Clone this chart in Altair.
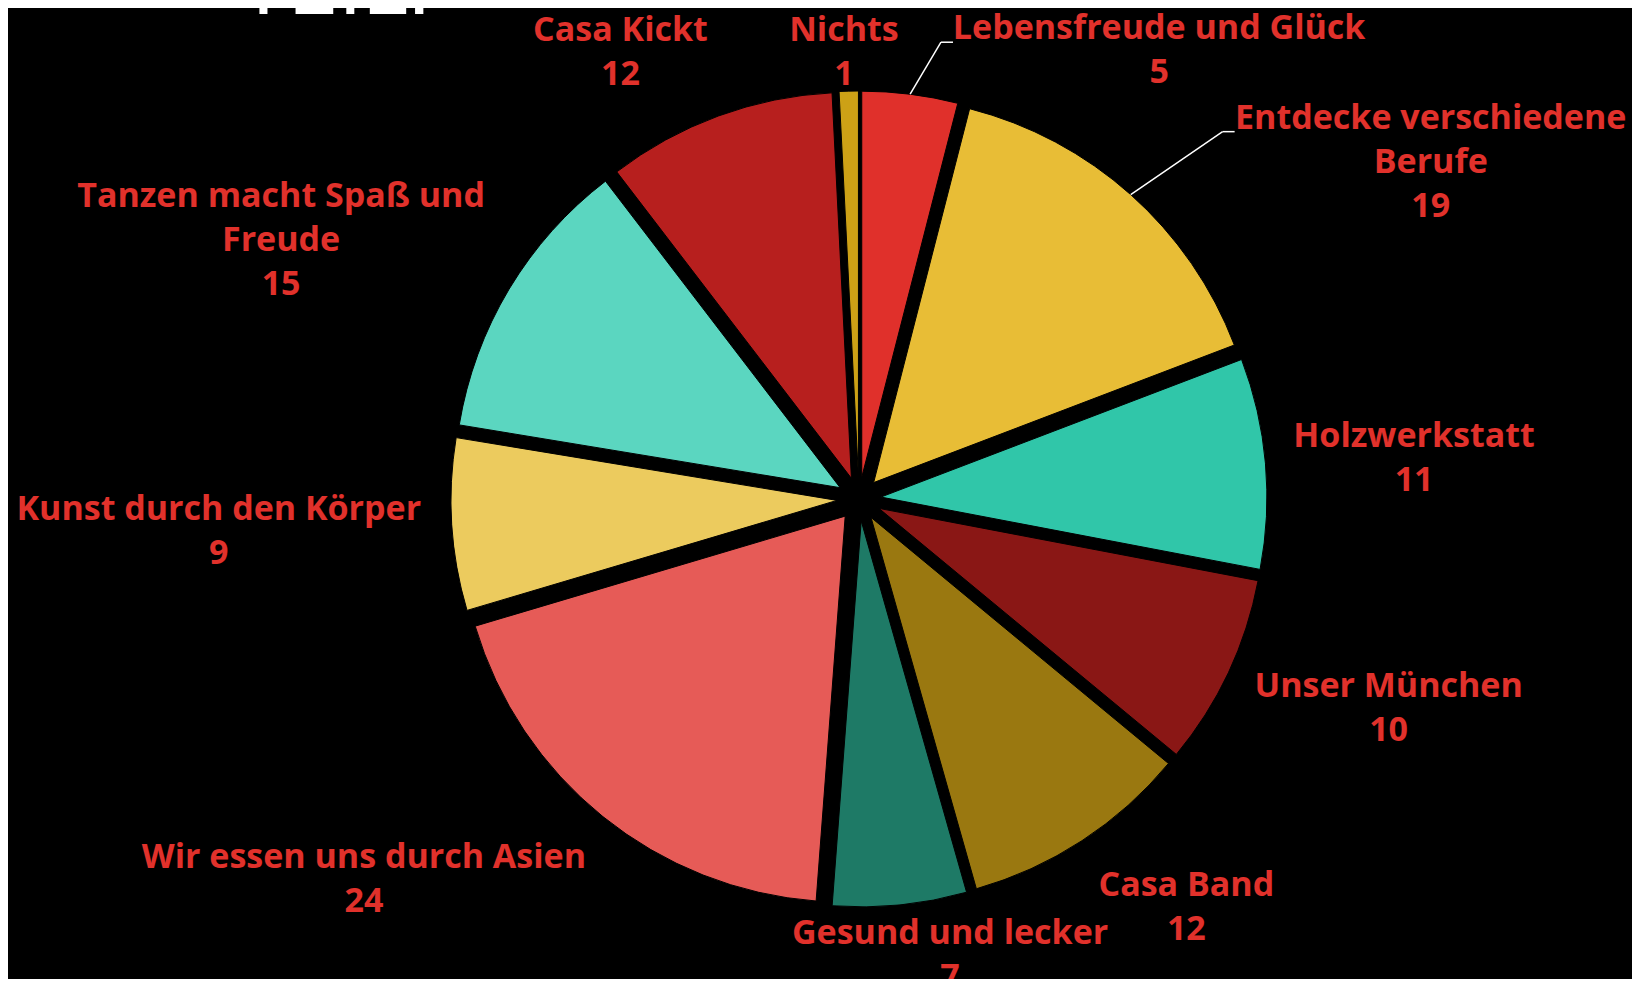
import altair as alt
import pandas as pd

# ---------------- data ----------------
categories = [
    "Lebensfreude und Glück",
    "Entdecke verschiedene Berufe",
    "Holzwerkstatt",
    "Unser München",
    "Casa Band",
    "Gesund und lecker",
    "Wir essen uns durch Asien",
    "Kunst durch den Körper",
    "Tanzen macht Spaß und Freude",
    "Casa Kickt",
    "Nichts",
]
values = [5, 19, 11, 10, 12, 7, 24, 9, 15, 12, 1]
label_names = [
    "Lebensfreude und Glück",
    "Entdecke verschiedene\nBerufe",
    "Holzwerkstatt",
    "Unser München",
    "Casa Band",
    "Gesund und lecker",
    "Wir essen uns durch Asien",
    "Kunst durch den Körper",
    "Tanzen macht Spaß und\nFreude",
    "Casa Kickt",
    "Nichts",
]
title_fragment = "TEIL."

# ---------------- style ----------------
slice_colors = [
    "#E0302B", "#E8BD36", "#30C6A9", "#8A1715", "#9A7810", "#1E7A66",
    "#E65B57", "#ECCB5E", "#5BD6C0", "#B71F1E", "#CDA116",
]
LABEL_RED = "#E1312B"
LABEL_FONT = "Open Sans"
W, H = 1624, 971
CX, CY = 851, 491          # pie centre (px)
R = 386                    # pie radius
D = 22                     # explosion distance
RA = R + D + 33            # label anchor radius
FS, LH = 34, 44            # label font size / line height
TOP, BOT = -2, 989         # label block limits
# labels dragged away from their slice in the original (offset from slice edge)
moved_labels = {
    "Lebensfreude und Glück": (249, -46),
    "Entdecke verschiedene Berufe": (300, -35),
}

# rough Open Sans Bold advance widths (em) for estimating label half-widths
_adv = {
    "i": 0.29, "l": 0.29, "j": 0.29, " ": 0.26, "f": 0.40, "t": 0.42,
    "r": 0.45, "s": 0.50, "c": 0.51, "z": 0.50, "m": 0.96, "e": 0.59,
    "a": 0.60, "v": 0.57, "k": 0.60, "ß": 0.66,
    "G": 0.73, "K": 0.68, "W": 0.95, "M": 0.90, "U": 0.73, "L": 0.55,
    "E": 0.56, "C": 0.63, "T": 0.56, "N": 0.76, "H": 0.76, "S": 0.56,
    "F": 0.55, "A": 0.68,
}


def text_width(s):
    return sum(_adv.get(ch, 0.63) for ch in s) * FS


df = pd.DataFrame({
    "category": categories,
    "value": values,
    "idx": list(range(len(categories))),
    "label": [f"{n}\n{v}" for n, v in zip(label_names, values)],
    "hw": [text_width(n.split("\n")[0]) / 2 for n in label_names],
    "moved": [int(c in moved_labels) for c in categories],
    "mdx": [moved_labels.get(c, (0, 0))[0] for c in categories],
    "mdy": [moved_labels.get(c, (0, 0))[1] for c in categories],
})

base = (
    alt.Chart(df)
    .transform_window(cum="sum(value)", sort=[alt.SortField("idx")], frame=[None, 0])
    .transform_joinaggregate(total="sum(value)")
    .transform_calculate(
        mid="2*PI*(datum.cum - datum.value/2)/datum.total",
        s="sin(datum.mid)",
        c="cos(datum.mid)",
        cx=f"{CX} + {D}*datum.s",
        cy=f"{CY} - {D}*datum.c",
        ex=f"datum.cx + {R}*datum.s",
        ey=f"datum.cy - {R}*datum.c",
        nl="length(split(datum.label, '\\n'))",
        hh=f"datum.nl*{LH}/2",
        lx=(f"datum.moved ? datum.ex + datum.mdx : "
            f"{CX} + {RA}*datum.s + datum.hw*clamp(3*datum.s, -1, 1)"),
        lyc=(f"datum.moved ? datum.ey + datum.mdy : "
             f"clamp({CY} - {RA}*datum.c - datum.hh*datum.c, {TOP} + datum.hh, {BOT} - datum.hh)"),
        ly=f"datum.lyc - (datum.nl - 1)/2*{LH} - 14",
        lbx="datum.lx - datum.hw - 15",
        lby="datum.ly + 14 + 16",
        lex="datum.lx - datum.hw - 3",
    )
)

pie = base.mark_arc(radius=R, stroke="#000000", strokeWidth=1).encode(
    theta=alt.Theta("value:Q", stack=True),
    order=alt.Order("idx:Q", sort="ascending"),
    color=alt.Color("category:N", scale=alt.Scale(domain=categories, range=slice_colors), legend=None),
    x=alt.X("cx:Q", scale=None),
    y=alt.Y("cy:Q", scale=None),
)

labels = base.mark_text(
    align="center", baseline="top", lineBreak="\n", font=LABEL_FONT, fontSize=FS,
    fontWeight="bold", lineHeight=LH, color=LABEL_RED,
).encode(
    x=alt.X("lx:Q", scale=None),
    y=alt.Y("ly:Q", scale=None),
    text="label:N",
)

leader1 = base.transform_filter("datum.moved == 1").mark_rule(color="#FFFFFF", strokeWidth=1.5).encode(
    x=alt.X("ex:Q", scale=None), y=alt.Y("ey:Q", scale=None),
    x2="lbx:Q", y2="lby:Q",
)
leader2 = base.transform_filter("datum.moved == 1").mark_rule(color="#FFFFFF", strokeWidth=1.5).encode(
    x=alt.X("lbx:Q", scale=None), y=alt.Y("lby:Q", scale=None),
    x2="lex:Q", y2="lby:Q",
)

title = alt.Chart(pd.DataFrame({"t": [title_fragment]})).mark_text(
    align="right", baseline="alphabetic", font="DejaVu Sans", fontSize=80,
    color="#FFFFFF",
).encode(x=alt.value(424), y=alt.value(6), text="t:N")

chart = (
    alt.layer(pie, leader1, leader2, labels, title)
    .properties(width=W, height=H, autosize=alt.AutoSizeParams(type="none"), padding=0,
                background="#000000")
    .configure_view(stroke=None)
)

chart.save("out.html", embed_options={"renderer": "svg", "actions": False})
